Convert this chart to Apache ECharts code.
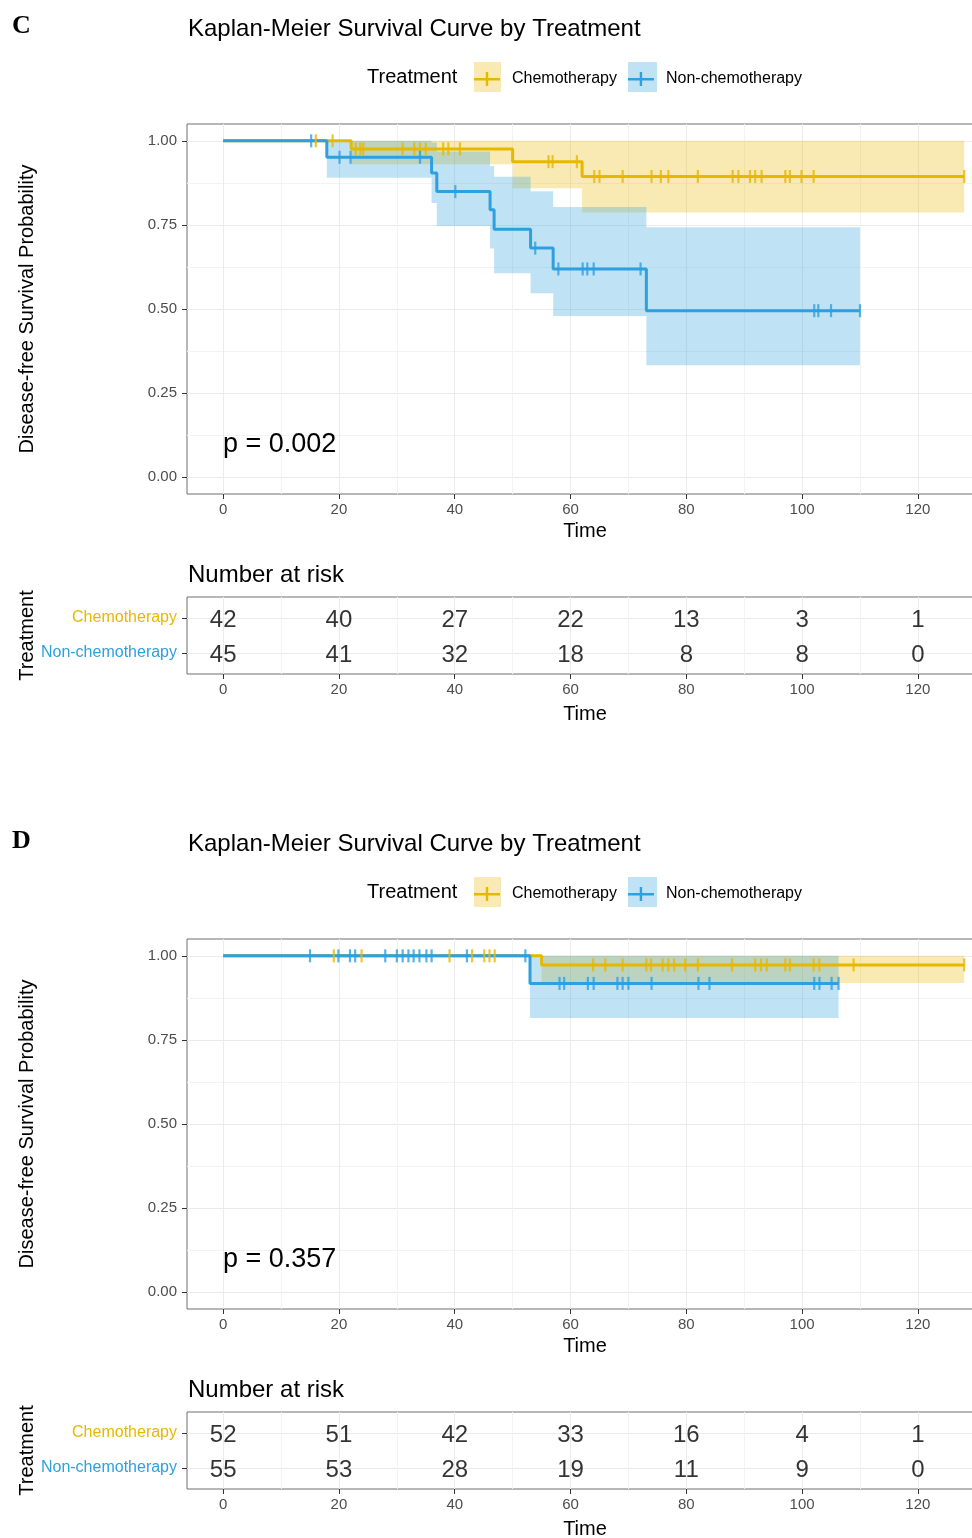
<!DOCTYPE html>
<html>
<head>
<meta charset="utf-8">
<title>Kaplan-Meier Survival Curve by Treatment</title>
<script src="https://cdn.jsdelivr.net/npm/echarts@6.0.0/dist/echarts.min.js"></script>
<style>
html, body { margin: 0; padding: 0; background: #fff; }
#chart { width: 972px; height: 1538px; }
</style>
</head>
<body>
<div id="chart"></div>
<script>
// step tables: [time, survival, lower 95%, upper 95%]
// last row = end of follow-up
const chemoC = [[0, 1, 1, 1], [22.1, 0.976, 0.93, 1], [50.0, 0.938, 0.859, 1], [62.0, 0.894, 0.787, 1], [128.0, 0.894, 0.787, 1]];
const nonC = [[0, 1, 1, 1], [17.9, 0.951, 0.89, 1], [36.0, 0.904, 0.815, 0.995], [36.9, 0.849, 0.747, 0.968],
  [46.1, 0.795, 0.68, 0.925], [46.8, 0.737, 0.606, 0.893], [53.1, 0.681, 0.547, 0.85], [57.0, 0.619, 0.479, 0.803],
  [73.1, 0.495, 0.333, 0.743], [110.0, 0.495, 0.333, 0.743]];
const chemoD = [[0, 1, 1, 1], [55.0, 0.973, 0.919, 1], [128.0, 0.973, 0.919, 1]];
const nonD = [[0, 1, 1, 1], [53.0, 0.918, 0.815, 1], [106.3, 0.918, 0.815, 1]];

// censoring times (ticks)
const censorChemoC = [16.0, 18.9, 22.9, 23.7, 24.2, 31.0, 33.0, 34.0, 35.0, 38.0, 38.9, 40.9, 56.2, 56.9, 61.1,
  64.1, 65.0, 69.0, 74.0, 75.6, 76.9, 82.0, 88.0, 89.0, 91.0, 91.9, 93.0, 97.1, 97.9, 99.9, 102.0, 128.0];
const censorNonC = [15.2, 20.1, 22.0, 34.0, 40.1, 53.9, 57.9, 62.1, 62.9, 64.0, 72.1, 102.1, 102.8, 105.0, 110.0];
const censorChemoD = [19.1, 23.9, 39.1, 43.0, 45.1, 46.0, 46.9, 63.9, 66.0, 69.0, 73.1, 73.9, 75.9, 76.9, 77.9,
  79.8, 82.0, 87.9, 91.9, 92.9, 93.9, 97.1, 97.9, 102.0, 103.0, 108.9, 128.0];
const censorNonD = [15.0, 19.9, 21.9, 22.8, 28.0, 30.0, 31.0, 32.0, 32.9, 33.9, 35.1, 36.0, 42.1, 52.2, 58.1, 58.9,
  63.0, 64.0, 68.1, 69.0, 70.0, 74.0, 82.1, 84.0, 102.1, 103.0, 105.1, 106.3];

// number at risk
const riskTimes = [0, 20, 40, 60, 80, 100, 120];
const riskChemoC = [42, 40, 27, 22, 13, 3, 1];
const riskNonC = [45, 41, 32, 18, 8, 8, 0];
const riskChemoD = [52, 51, 42, 33, 16, 4, 1];
const riskNonD = [55, 53, 28, 19, 11, 9, 0];

const pValueC = '0.002';
const pValueD = '0.357';

const groups = ['Chemotherapy', 'Non-chemotherapy'];
const timeTicks = [0, 20, 40, 60, 80, 100, 120];
const timeMinor = [10, 30, 50, 70, 90, 110, 130];
const survTicks = [0, 0.25, 0.5, 0.75, 1];
const survMinor = [0.125, 0.375, 0.625, 0.875];

const FONT = '"Liberation Sans", Arial, sans-serif';
const YELLOW = '#E7B800';
const BLUE = '#2E9FDF';
const X_MIN = -6.25, X_MAX = 131.25;

function survAt(steps, t) {
  let s = steps[0][1];
  steps.forEach(r => { if (r[0] <= t) s = r[1]; });
  return s;
}
function bandsOf(steps) {
  const out = [];
  for (let i = 0; i < steps.length - 1; i++) {
    if (steps[i][3] > steps[i][2]) out.push([steps[i][0], steps[i + 1][0], steps[i][2], steps[i][3]]);
  }
  return out;
}

function mainX(g, gap) {
  return {
    gridIndex: g, type: 'value', min: X_MIN, max: X_MAX, position: 'bottom',
    axisLine: { show: false, onZero: false },
    axisTick: { show: true, length: 5, customValues: timeTicks, lineStyle: { color: '#333', width: 1 } },
    axisLabel: { show: true, customValues: timeTicks, margin: 8, color: '#4D4D4D', fontSize: 15, fontFamily: FONT },
    splitLine: { show: true, lineStyle: { color: '#EBEBEB', width: 1 } },
    name: 'Time', nameLocation: 'middle', nameGap: gap,
    nameTextStyle: { fontSize: 20, color: '#000', fontFamily: FONT }
  };
}
function minorX(g) {
  return {
    gridIndex: g, type: 'value', min: X_MIN, max: X_MAX, position: 'bottom',
    axisLine: { show: false, onZero: false }, axisLabel: { show: false },
    axisTick: { show: false, customValues: timeMinor },
    splitLine: { show: true, lineStyle: { color: '#F3F3F3', width: 1 } }
  };
}
function survY(g) {
  return {
    gridIndex: g, type: 'value', min: -0.05, max: 1.05, position: 'left',
    axisLine: { show: false, onZero: false },
    axisTick: { show: true, length: 5, customValues: survTicks, lineStyle: { color: '#333', width: 1 } },
    axisLabel: { customValues: survTicks, margin: 10, color: '#4D4D4D', fontSize: 15, fontFamily: FONT,
      formatter: v => v.toFixed(2) },
    splitLine: { show: true, lineStyle: { color: '#EBEBEB', width: 1 } },
    name: 'Disease-free Survival Probability', nameLocation: 'middle', nameRotate: 90, nameGap: 150,
    nameTextStyle: { fontSize: 20, color: '#000', fontFamily: FONT }
  };
}
function survMinorY(g) {
  return {
    gridIndex: g, type: 'value', min: -0.05, max: 1.05, position: 'left',
    axisLine: { show: false, onZero: false }, axisLabel: { show: false },
    axisTick: { show: false, customValues: survMinor },
    splitLine: { show: true, lineStyle: { color: '#F3F3F3', width: 1 } }
  };
}
function tableY(g) {
  return {
    gridIndex: g, type: 'value', min: 0.4, max: 2.6, position: 'left',
    axisLine: { show: false, onZero: false },
    axisTick: { show: true, length: 5, customValues: [1, 2], lineStyle: { color: '#333', width: 1 } },
    axisLabel: {
      customValues: [1, 2], margin: 10, fontSize: 16, fontFamily: FONT,
      formatter: v => (v === 2 ? '{a|' + groups[0] + '}' : '{b|' + groups[1] + '}'),
      rich: { a: { color: YELLOW, fontSize: 16, fontFamily: FONT }, b: { color: BLUE, fontSize: 16, fontFamily: FONT } }
    },
    splitLine: { show: true, lineStyle: { color: '#EBEBEB', width: 1 } },
    name: 'Treatment', nameLocation: 'middle', nameRotate: 90, nameGap: 150, nameMoveOverlap: false,
    nameTextStyle: { fontSize: 20, color: '#000', fontFamily: FONT }
  };
}

function bandSeries(name, steps, xi, yi, fill) {
  return {
    name: name, type: 'custom', xAxisIndex: xi, yAxisIndex: yi, z: 1, silent: true,
    data: bandsOf(steps),
    renderItem: (params, api) => {
      const a = api.coord([api.value(0), api.value(3)]);
      const b = api.coord([api.value(1), api.value(2)]);
      return { type: 'rect', shape: { x: a[0], y: a[1], width: b[0] - a[0], height: b[1] - a[1] }, style: { fill: fill } };
    }
  };
}
function curveSeries(name, steps, xi, yi, color) {
  return {
    name: name, type: 'line', xAxisIndex: xi, yAxisIndex: yi, z: 2, step: 'end',
    showSymbol: false, symbol: 'none', animation: false,
    data: steps.map(r => [r[0], r[1]]),
    itemStyle: { color: color }, lineStyle: { color: color, width: 3 }
  };
}
function censorSeries(name, steps, times, xi, yi, color) {
  return {
    name: name, type: 'scatter', xAxisIndex: xi, yAxisIndex: yi, z: 3, silent: true,
    symbol: 'rect', symbolSize: [2.2, 13],
    data: times.map(t => [t, survAt(steps, t)]),
    itemStyle: { color: color }
  };
}
function riskSeries(name, counts, row, xi, yi) {
  return {
    name: name, type: 'scatter', xAxisIndex: xi, yAxisIndex: yi, z: 3, silent: true,
    symbolSize: 1, itemStyle: { color: 'rgba(0,0,0,0)' },
    data: riskTimes.map((t, i) => [t, row, counts[i]]),
    label: { show: true, position: 'inside', offset: [0, 2], formatter: p => String(p.value[2]),
      fontSize: 24, color: '#000', fontFamily: FONT }
  };
}

const panels = [
  { dy: 0, letter: 'C', chemo: chemoC, non: nonC, cChemo: censorChemoC, cNon: censorNonC, rChemo: riskChemoC, rNon: riskNonC, p: pValueC },
  { dy: 815, letter: 'D', chemo: chemoD, non: nonD, cChemo: censorChemoD, cNon: censorNonD, rChemo: riskChemoD, rNon: riskNonD, p: pValueD }
];

const grid = [], xAxis = [], yAxis = [], series = [], title = [], legend = [], graphic = [];

panels.forEach(pn => {
  const gPlot = grid.length;
  grid.push({ left: 187, top: 124 + pn.dy, width: 796, height: 370, show: true, borderColor: '#6f6f6f', borderWidth: 1, outerBoundsMode: 'none' });
  const gTab = grid.length;
  grid.push({ left: 187, top: 597 + pn.dy, width: 796, height: 77, show: true, borderColor: '#6f6f6f', borderWidth: 1, outerBoundsMode: 'none' });

  const xp = xAxis.length; xAxis.push(mainX(gPlot, 27)); xAxis.push(minorX(gPlot));
  const xt = xAxis.length; xAxis.push(mainX(gTab, 30)); xAxis.push(minorX(gTab));
  const yp = yAxis.length; yAxis.push(survY(gPlot)); yAxis.push(survMinorY(gPlot));
  const yt = yAxis.length; yAxis.push(tableY(gTab));

  series.push(bandSeries('Chemotherapy CI', pn.chemo, xp, yp, 'rgba(231,184,0,0.3)'));
  series.push(bandSeries('Non-chemotherapy CI', pn.non, xp, yp, 'rgba(46,159,223,0.3)'));
  series.push(curveSeries(groups[0], pn.chemo, xp, yp, YELLOW));
  series.push(curveSeries(groups[1], pn.non, xp, yp, BLUE));
  series.push(censorSeries('Chemotherapy censored', pn.chemo, pn.cChemo, xp, yp, YELLOW));
  series.push(censorSeries('Non-chemotherapy censored', pn.non, pn.cNon, xp, yp, BLUE));
  series.push(riskSeries('Chemotherapy at risk', pn.rChemo, 2, xt, yt));
  series.push(riskSeries('Non-chemotherapy at risk', pn.rNon, 1, xt, yt));

  title.push({ text: pn.letter, left: 12, top: 13 + pn.dy, padding: 0,
    textStyle: { fontFamily: '"Liberation Serif", "Times New Roman", serif', fontWeight: 'bold', fontSize: 26, color: '#000' } });
  title.push({ text: 'Kaplan-Meier Survival Curve by Treatment', left: 188, top: 17 + pn.dy, padding: 0,
    textStyle: { fontFamily: FONT, fontWeight: 'normal', fontSize: 24, color: '#000' } });
  title.push({ text: 'Treatment', left: 367, top: 67 + pn.dy, padding: 0,
    textStyle: { fontFamily: FONT, fontWeight: 'normal', fontSize: 20, color: '#000' } });
  title.push({ text: 'Number at risk', left: 188, top: 563 + pn.dy, padding: 0,
    textStyle: { fontFamily: FONT, fontWeight: 'normal', fontSize: 24, color: '#000' } });
  title.push({ text: 'p = ' + pn.p, left: 223, top: 431 + pn.dy, padding: 0,
    textStyle: { fontFamily: FONT, fontWeight: 'normal', fontSize: 27, color: '#000' } });

  legend.push({
    data: groups, left: 474, top: 71 + pn.dy, padding: 0, itemGap: 11, itemWidth: 26, itemHeight: 14,
    icon: 'path://M0,6 L26,6 L26,8.5 L0,8.5 Z M11.8,0 L14.2,0 L14.2,14 L11.8,14 Z',
    selectedMode: false, itemStyle: { borderWidth: 0 },
    textStyle: { fontFamily: FONT, fontSize: 16, color: '#000', padding: [0, 0, 0, 7] }
  });
  graphic.push({ type: 'rect', left: 474, top: 62 + pn.dy, z: 0, silent: true,
    shape: { width: 27, height: 30 }, style: { fill: 'rgba(231,184,0,0.3)' } });
  graphic.push({ type: 'rect', left: 628, top: 62 + pn.dy, z: 0, silent: true,
    shape: { width: 29, height: 30 }, style: { fill: 'rgba(46,159,223,0.3)' } });
});

const chart = echarts.init(document.getElementById('chart'), null, { renderer: 'canvas' });
chart.setOption({
  animation: false,
  backgroundColor: '#fff',
  title: title,
  legend: legend,
  grid: grid,
  xAxis: xAxis,
  yAxis: yAxis,
  series: series,
  graphic: graphic
});
</script>
</body>
</html>
